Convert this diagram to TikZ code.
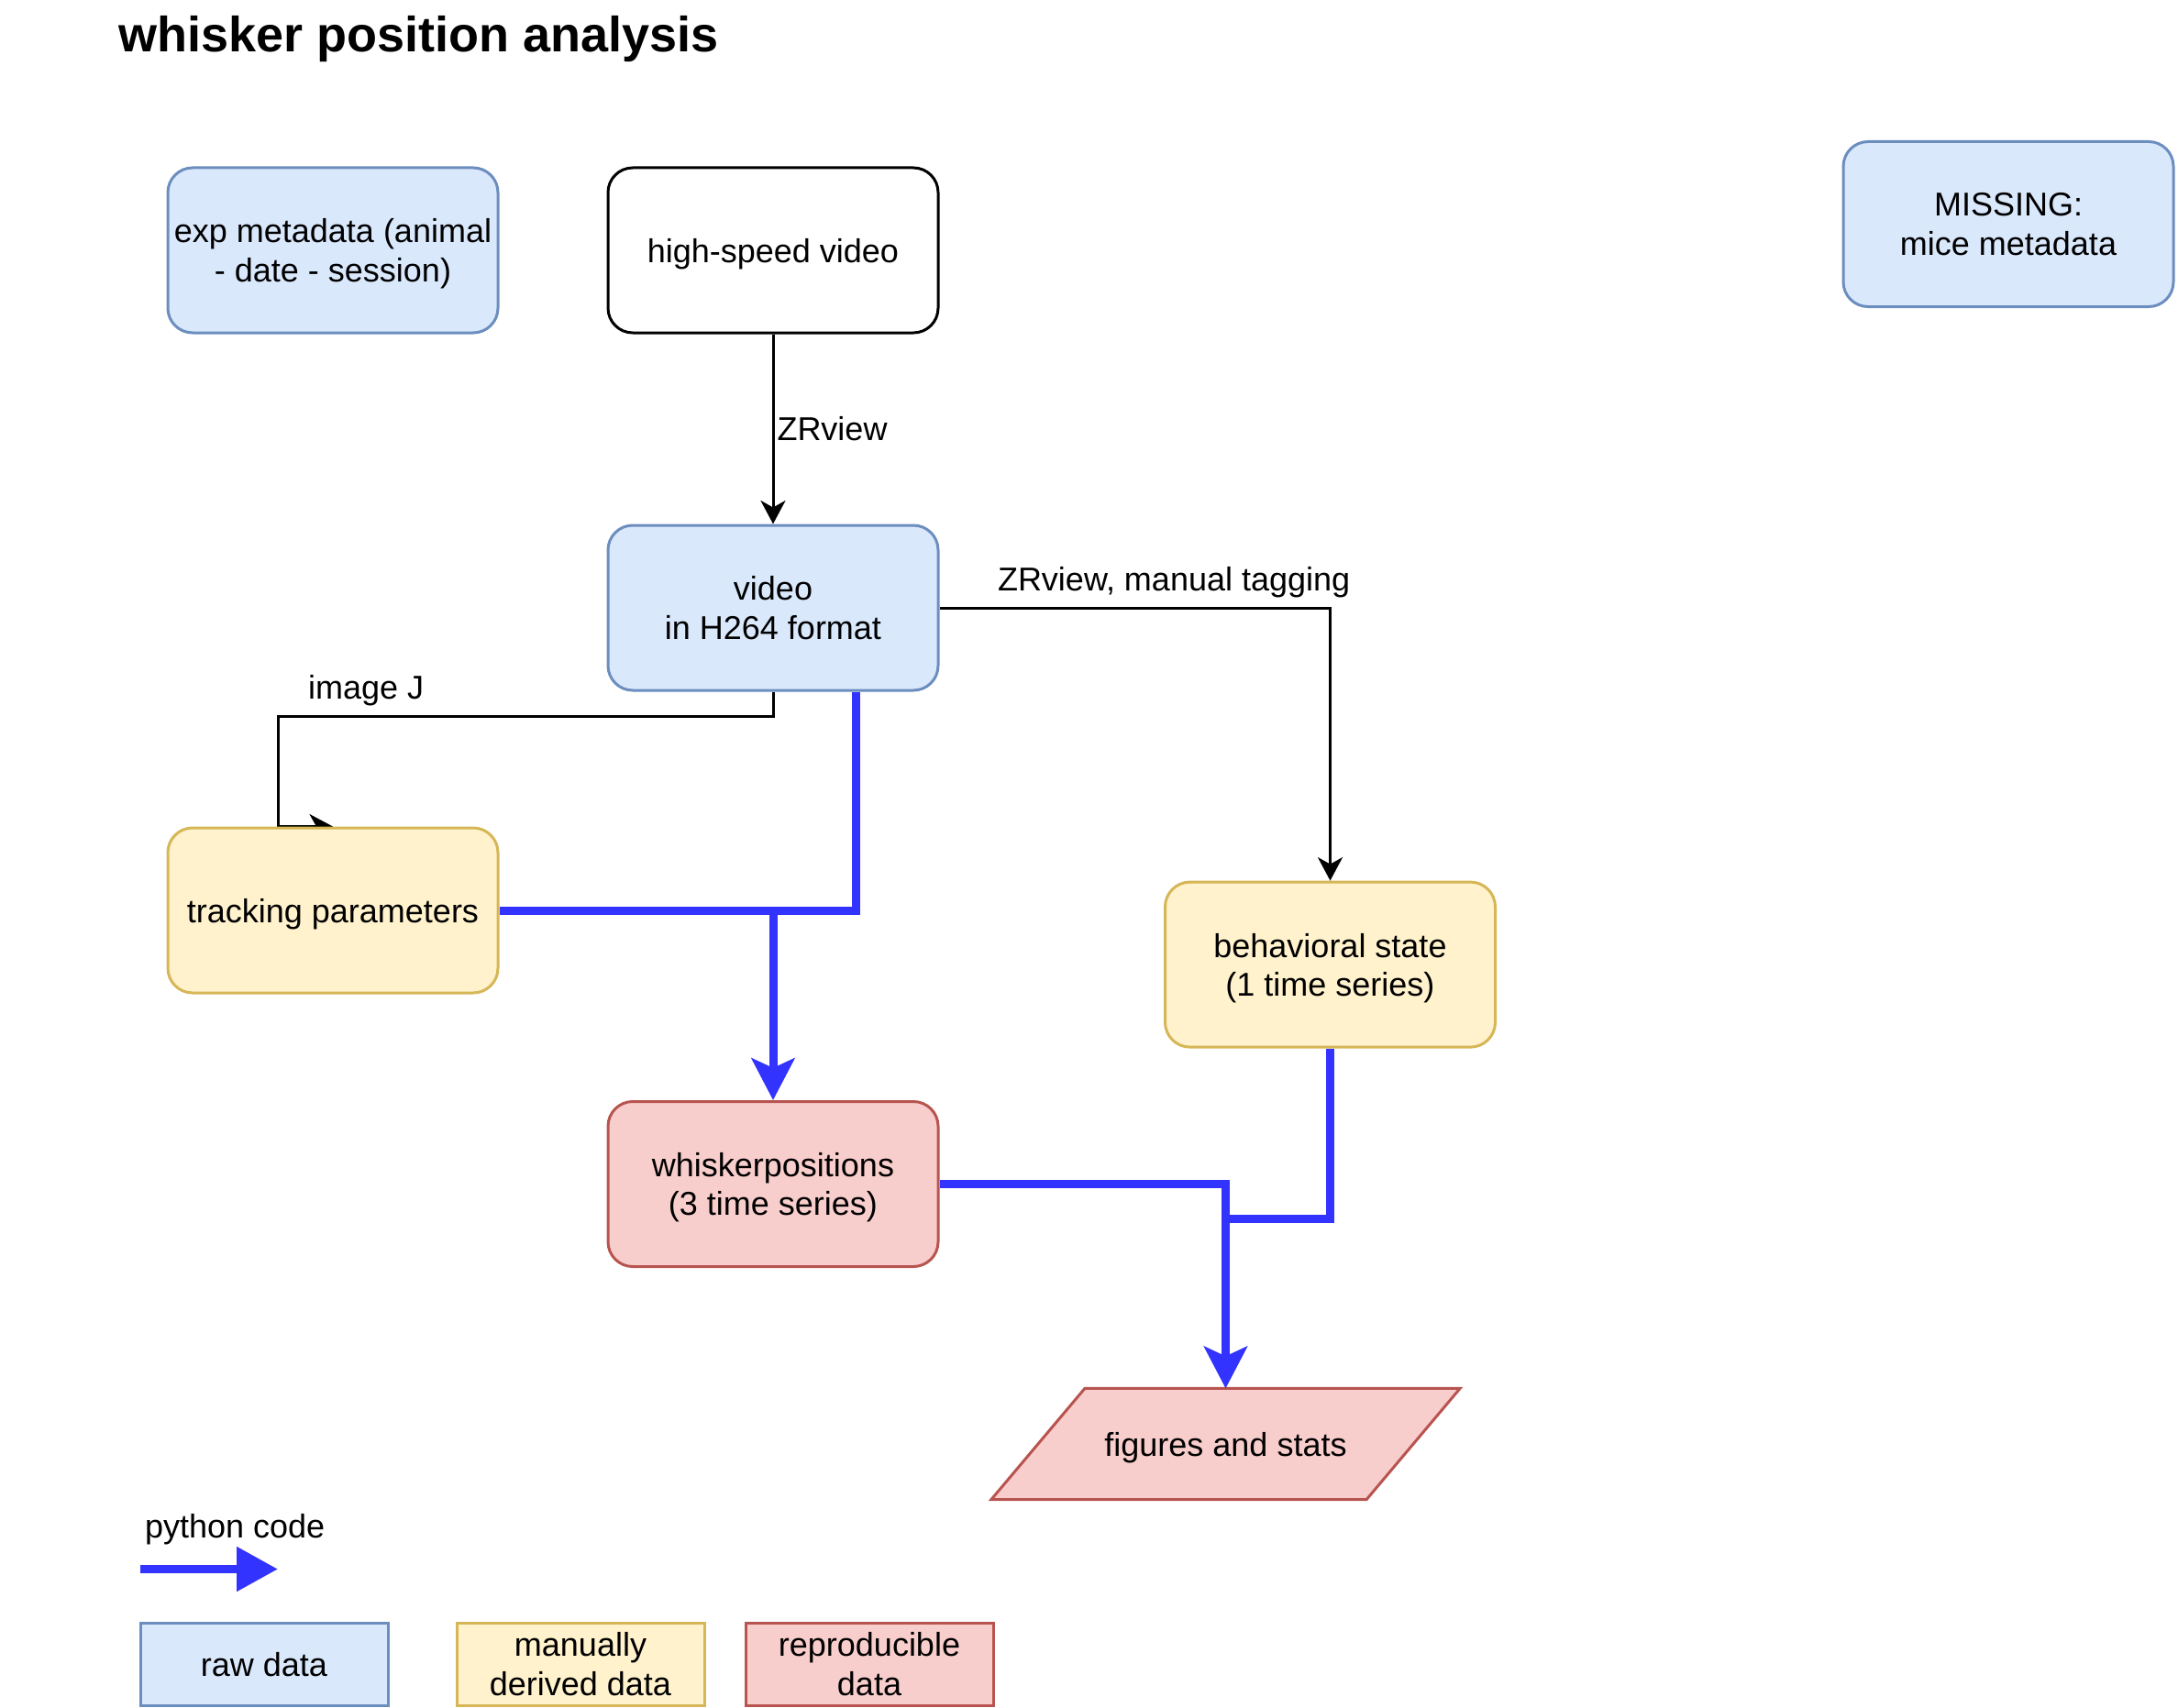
\documentclass[tikz,border=0pt]{standalone}
\usepackage{fontspec}
\setmainfont{Liberation Sans}
\usetikzlibrary{arrows.meta,calc,backgrounds}
\definecolor{rawfill}{HTML}{DAE8FC}
\definecolor{rawline}{HTML}{6C8EBF}
\definecolor{manfill}{HTML}{FFF2CC}
\definecolor{manline}{HTML}{D6B656}
\definecolor{repfill}{HTML}{F8CECC}
\definecolor{repline}{HTML}{B85450}
\definecolor{pyblue}{HTML}{3333FF}
\newcommand{\txt}{\fontsize{12}{14.1}\selectfont}
\tikzset{
  boxtext/.style={align=center, font=\txt, text depth=0pt},
  box/.style={draw, line width=1pt, rounded corners=9pt, minimum width=120pt, minimum height=60pt,
    inner sep=2pt, boxtext},
  raw/.style={box, fill=rawfill, draw=rawline},
  manual/.style={box, fill=manfill, draw=manline},
  repro/.style={box, fill=repfill, draw=repline},
  legendbox/.style={sharp corners, minimum width=90pt, minimum height=30pt},
  lbl/.style={font=\txt},
  tagarrow/.style={line width=1pt, -{Stealth[length=8.5pt,width=9pt,inset=2.5pt]}},
  pyline/.style={line width=3pt, draw=pyblue},
  pyarrow/.style={pyline, -{Stealth[length=15.2pt,width=15.6pt,inset=3.5pt]}}
}

\begin{document}
\begin{tikzpicture}[x=1pt, y=-1pt]
                    \useasboundingbox (0,0) rectangle (791.67,620.67);

                    \node[anchor=west, inner sep=0pt, font=\fontsize{18}{21}\selectfont\bfseries] (title) at (42.9,14.1) {whisker position analysis};

                    \node[raw] (meta) at (121,91) {exp metadata (animal\\- date - session)};
                    \node[box, fill=white] (hsv) at (281,91) {high-speed video};
                    \node[raw] (missing) at (730,81.5) {MISSING:\\mice metadata};
                    \node[raw] (vid) at (281,221) {video\\in H264 format};
                    \node[manual] (track) at (121,331) {tracking parameters};
                    \node[manual] (behav) at (483.5,350.7) {behavioral state\\(1 time series)};
                    \node[repro] (whisk) at (281,430.5) {whiskerpositions\\(3 time series)};
                    \node[boxtext, minimum width=136pt, minimum height=40pt, inner sep=2pt] (figs) at (445.5,525) {figures and stats};

                    \node[lbl, anchor=west, inner sep=0.5pt] (pytext) at (52,556) {python code};
                    \coordinate (pyA) at (51,570.5);
                    \coordinate (pyB) at (101,570.5);
                    \node[raw, legendbox] (lraw) at (96,605) {raw data};
                    \node[manual, legendbox] (lman) at (211,605) {manually\\derived data};
                    \node[repro, legendbox] (lrep) at (316,605) {reproducible\\data};

                    \coordinate (joinA) at (whisk.north |- track.east);
                    \coordinate (joinB) at ($(figs.north)+(0,-61.7)$);

                    \begin{scope}[on background layer]
                    \filldraw[fill=repfill, draw=repline, line width=1pt] ($(figs.south west)+(-17,0)$) -- ($(figs.north west)+(17,0)$) -- ($(figs.north east)+(17,0)$) -- ($(figs.south east)+(-17,0)$) -- cycle;
                    \draw[tagarrow] (vid.south) |- node[lbl, pos=0.911, above] {image J} ($(track.north)+(-20,-40)$) -- ($(track.north)+(-20,0)$) -- (track.north);
                    \end{scope}

                    \draw[tagarrow] (hsv) -- node[lbl, right, inner sep=1pt] {ZRview} (vid);
                    \draw[tagarrow] (vid.east) -| node[lbl, pos=0.3, above] {ZRview, manual tagging} (behav.north);

                    \draw[pyarrow] ($(vid.south)+(30,0)$) |- (joinA) -- (whisk.north);
                    \draw[pyline] (track.east) -- (joinA);
                    \draw[pyarrow] (whisk.east) -| (figs.north);
                    \draw[pyline] (behav.south) |- (joinB);

                    \draw[pyline, -{Triangle[length=15pt,width=15.6pt]}] (pyA) -- (pyB);
                \end{tikzpicture}
\end{document}
